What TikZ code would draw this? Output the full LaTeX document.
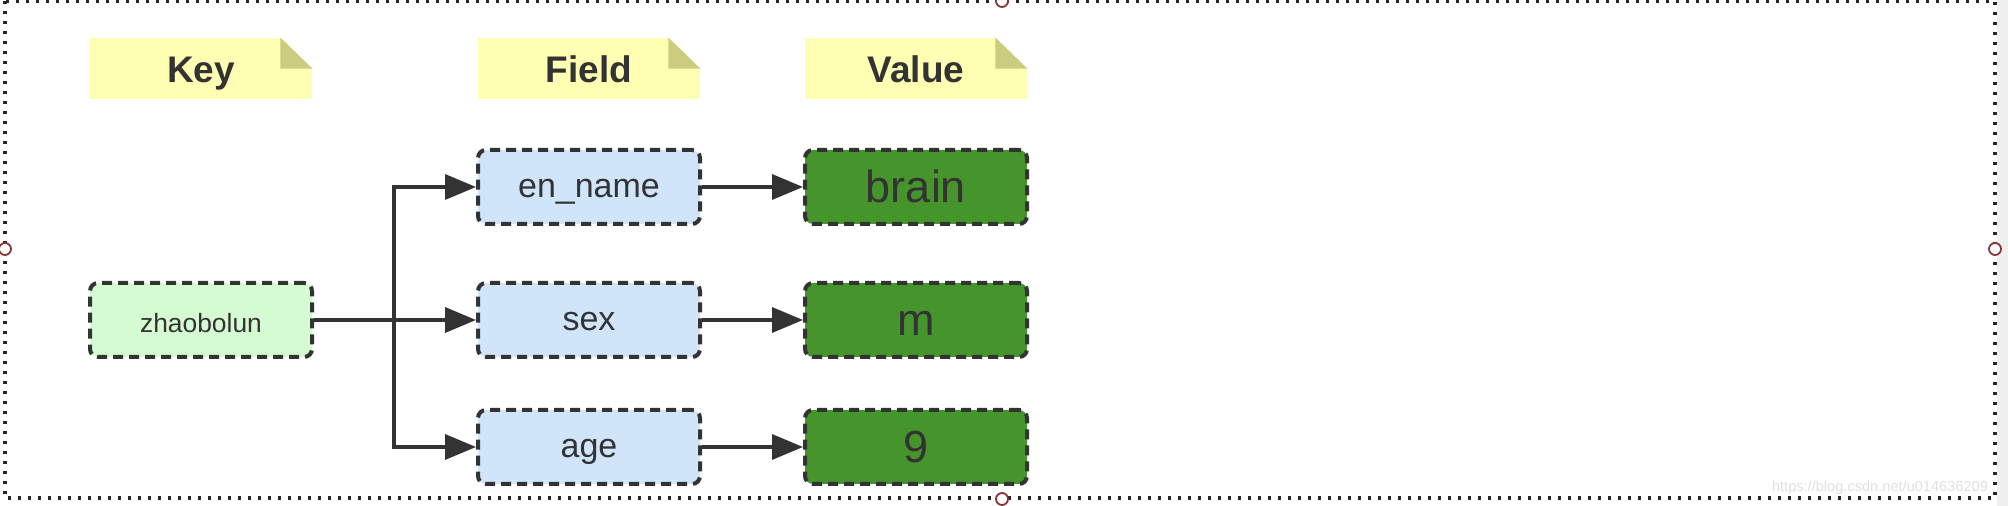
\documentclass[tikz,border=0pt]{standalone}
\usepackage{fontspec}
\setmainfont{Liberation Sans}
\usetikzlibrary{arrows.meta}

\definecolor{ink}{HTML}{333333}
\definecolor{notefill}{HTML}{FFFFB3}
\definecolor{notefold}{HTML}{CCCC80}
\definecolor{keyfill}{HTML}{D5FBD3}
\definecolor{fieldfill}{HTML}{D0E4FA}
\definecolor{valfill}{HTML}{45952C}
\definecolor{handlered}{HTML}{8B3535}

\begin{document}
\begin{tikzpicture}[x=0.5pt,y=-0.5pt]

\tikzset{note/.style = {fill=notefill,minimum width=111pt,minimum height=30.5pt,inner sep=0pt,text=ink,text height=14.5pt,text depth=0pt,font=\bfseries\fontsize{18.5}{20}\selectfont}}
\tikzset{box/.style = {draw=ink,line width=2pt,dash pattern=on 5pt off 3pt,rounded corners=4pt,minimum width=111pt,minimum height=37pt,inner sep=0pt,text=ink,text depth=0pt}}
\tikzset{keybox/.style = {box,fill=keyfill,text height=13pt,font=\fontsize{13.2}{15}\selectfont}}
\tikzset{fieldbox/.style = {box,fill=fieldfill,text height=11pt,font=\fontsize{17}{19}\selectfont}}
\tikzset{valbox/.style = {box,fill=valfill,text height=16pt,font=\fontsize{22.5}{24}\selectfont}}
\tikzset{edge/.style = {draw=ink,line width=1.75pt,-{Triangle[length=15.5pt,width=12.5pt]}}}
\tikzset{handle/.style = {shape=circle,draw=handlered,fill=white,line width=0.9pt,minimum size=6pt,inner sep=0pt}}

\useasboundingbox (0,0) rectangle (2008,506);
\fill[black!6] (1997,0) rectangle (2008,506);
%frame
\draw[black!85,line width=1.6pt,dash pattern=on 1.6pt off 3.4pt] (5,1) rectangle (1995,498);
\node[anchor=base east,text=black!12,font=\fontsize{7.3}{8}\selectfont] (wm) at (1995,492) {https://blog.csdn.net/u014636209};

%headers
\node[note] (key) at (201,68.5) {Key};
\node[note] (field) at (589,68.5) {Field};
\node[note] (value) at (916,68.5) {Value};
\foreach \n in {key,field,value}{
  \fill[white] (\n.north east) -- ++(-32,0) -- ++(32,32) -- cycle;
  \fill[notefold] (\n.north east) ++(-32,0) -- ++(0,31) -- ++(32,0) -- cycle;
}

%nodes
\node[keybox] (zb) at (201,320) {zhaobolun};
\node[fieldbox] (en) at (589,187) {en\_name};
\node[fieldbox] (sex) at (589,320) {sex};
\node[fieldbox] (age) at (589,447) {age};
\node[valbox] (brain) at (916,187) {brain};
\node[valbox] (m) at (916,320) {m};
\node[valbox] (nine) at (916,447) {9};

%edges
\coordinate (split) at (394,320);
\draw[edge] (zb) -- (sex);
\draw[edge] (split) |- (en);
\draw[edge] (split) |- (age);
\draw[edge] (en) -- (brain);
\draw[edge] (sex) -- (m);
\draw[edge] (age) -- (nine);

%handles
\node[handle] (htop) at (1002,1) {};
\node[handle] (hleft) at (5,249) {};
\node[handle] (hright) at (1995,249) {};
\node[handle] (hbottom) at (1002,499) {};

\end{tikzpicture}
\end{document}
